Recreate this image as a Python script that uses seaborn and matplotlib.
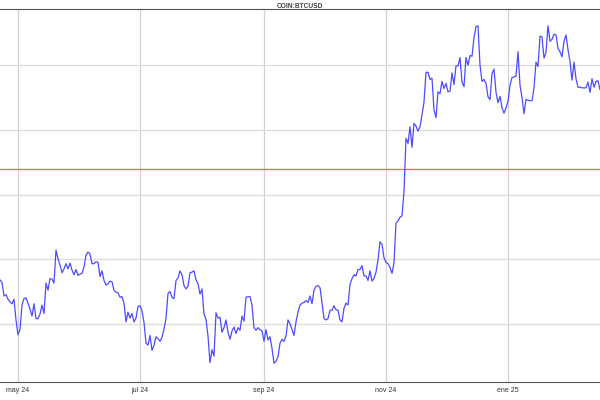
''' COIN:BTCUSD daily close, abr 2024 - feb 2025 '''

import pandas as pd
import matplotlib
matplotlib.use('Agg')
import matplotlib.pyplot as plt
import seaborn as sns

# daily closes in USD, first day 2024-04-22
start_date = '2024-04-22'
closes = [
    # abr 22-30
    66800, 66400, 64300, 64500, 63800, 63400, 63100, 63800, 60600,
    # may
    58300, 59100, 62900, 63900, 64000, 63200, 62300, 61200, 63100, 60800,
    60800, 61500, 62900, 61600, 66300, 65200, 67000, 66900, 66300, 71400,
    70100, 69100, 67900, 68500, 69300, 68500, 69400, 68300, 67600, 68400,
    67500,
    # jun
    67700, 67800, 68800, 70600, 71100, 70800, 69300, 69300, 69600, 69500,
    67300, 68200, 66700, 66000, 66200, 66600, 66500, 65200, 64900, 64800,
    64100, 64200, 63200, 60300, 61800, 60900, 61600, 60300, 60900, 62700,
    # jul
    62800, 62000, 60200, 57000, 56700, 58200, 55900, 56700, 58000, 57700,
    57300, 57900, 59200, 60800, 64700, 65000, 64100, 63900, 66700, 67100,
    68200, 67600, 65900, 65400, 65800, 67900, 68000, 68200, 66800, 66200,
    64600,
    # ago
    65400, 61500, 60700, 58100, 54000, 56000, 55000, 61700, 60900, 61000,
    58700, 59400, 60600, 58700, 57600, 58900, 59500, 58500, 59400, 59000,
    61200, 60400, 64100, 64200, 64200, 62900, 59400, 59000, 59400, 59100,
    58900,
    # sep
    57300, 59100, 57500, 58000, 56200, 53900, 54200, 54900, 57000, 57600,
    57300, 58100, 60600, 60000, 59100, 58200, 60300, 61800, 62900, 63200,
    63300, 63600, 63300, 64300, 63100, 65200, 65800, 65900, 65600, 63300,
    # oct
    60800, 60600, 60800, 62100, 62100, 62800, 62200, 62100, 60600, 60300,
    62400, 63200, 62900, 66100, 67000, 67600, 67400, 68400, 68400, 69000,
    67400, 67400, 66700, 68200, 66600, 67000, 68000, 69900, 72700, 72300,
    70200,
    # nov
    69500, 69300, 68700, 67800, 69400, 75600, 75900, 76500, 76700, 80500,
    88700, 87900, 90500, 87300, 91000, 90600, 89800, 90500, 92300, 94300,
    98900, 98900, 97800, 98000, 93100, 91900, 95900, 95600, 97500, 96400,
    # dic
    97200, 95900, 96000, 98800, 97000, 99900, 99900, 101200, 97400, 96700,
    101200, 100000, 101500, 101400, 104300, 106000, 106100, 100000, 97500, 97800,
    97200, 95100, 94700, 98700, 99400, 95800, 94200, 95200, 93400, 92600,
    93400,
    # ene
    94400, 96900, 98100, 98200, 98300, 102100, 96900, 95000, 92500, 94700,
    94600, 94500, 94500, 96500, 100500, 99800, 104500, 104400, 101100, 102000,
    106100, 103700, 104000, 104800, 104700, 102600, 102100, 101300, 103700, 104700,
    102400,
    # feb 1-16
    100600, 97700, 100500, 97900, 96600, 96600, 96500, 96500, 96500, 97400,
    95800, 97900, 96600, 97500, 97600, 96200,
]

reference_level = 84000
tick_dates = ['2024-05-01', '2024-07-01', '2024-09-01', '2024-11-01', '2025-01-01']
tick_labels = ['may 24', 'jul 24', 'sep 24', 'nov 24', 'ene 25']
y_grid = [60000, 70000, 80000, 90000, 100000]
title = 'COIN:BTCUSD'


def plot_price(df):
    sns.set_style('white')
    plt.rcParams['font.family'] = ['Liberation Sans', 'DejaVu Sans']

    fig = plt.figure(figsize=(6, 4), dpi=100)
    ax = fig.add_axes([0, 0.045, 1, 0.9325])

    # grid first, then the level line and the price
    for d in tick_dates:
        ax.axvline(pd.Timestamp(d), color='#d2d2d2', linewidth=0.9, zorder=0)
    for v in y_grid:
        ax.axhline(v, color='#d8dede', linewidth=0.9, zorder=0)
    ax.axhline(reference_level, color='#e07070', linewidth=1.0, zorder=1)

    sns.lineplot(data=df, x='date', y='close', ax=ax, color='#4c4cff',
                 linewidth=0.9, zorder=2)

    ax.set_xlim(df['date'].iloc[0], df['date'].iloc[-1])
    ax.set_ylim(51000, 108700)

    ax.set_xticks([pd.Timestamp(d) for d in tick_dates])
    ax.set_xticklabels(tick_labels, fontsize=5, color='#333333')
    ax.tick_params(axis='x', length=2, width=0.6, color='#555555', pad=1.5)
    ax.set_yticks([])
    ax.set_xlabel('')
    ax.set_ylabel('')

    for side in ['left', 'right']:
        ax.spines[side].set_visible(False)
    for side in ['top', 'bottom']:
        ax.spines[side].set_color('#555555')
        ax.spines[side].set_linewidth(0.8)

    ax.set_title(title, fontsize=4.8, fontweight='bold', color='#444444', pad=1)

    fig.savefig('out.png', dpi=100)


if __name__ == '__main__':
    prices = pd.DataFrame({
        'date': pd.date_range(start_date, periods=len(closes), freq='D'),
        'close': closes,
    })
    plot_price(prices)
